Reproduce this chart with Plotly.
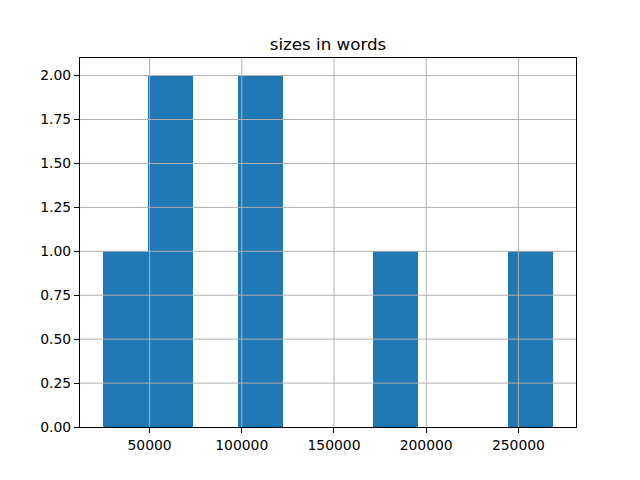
import numpy as np
import plotly.graph_objects as go

# word counts of documents (estimated from the histogram)
sizes_in_words = [24500, 52000, 68000, 103000, 118000, 180000, 269000]
n_bins = 10
x_tick_values = [50000, 100000, 150000, 200000, 250000]
y_tick_values = [0.0, 0.25, 0.5, 0.75, 1.0, 1.25, 1.5, 1.75, 2.0]

counts, edges = np.histogram(sizes_in_words, bins=n_bins)
centers = (edges[:-1] + edges[1:]) / 2
width = edges[1] - edges[0]

span = edges[-1] - edges[0]
xr = [edges[0] - 0.05 * span, edges[-1] + 0.05 * span]
yr = [0, counts.max() * 1.05]

fig = go.Figure(go.Bar(
    x=centers, y=counts, width=[width] * len(counts),
    marker=dict(color="#1f77b4", line=dict(width=0)),
))

grid_color = "#b0b0b0"
# grid lines drawn above the bars, as in matplotlib/pandas hist
for xv in x_tick_values:
    if xr[0] < xv < xr[1]:
        fig.add_shape(type="line", xref="x", yref="paper", x0=xv, x1=xv, y0=0, y1=1,
                      line=dict(color=grid_color, width=1), layer="above")
for yv in y_tick_values:
    if yr[0] < yv < yr[1]:
        fig.add_shape(type="line", xref="paper", yref="y", x0=0, x1=1, y0=yv, y1=yv,
                      line=dict(color=grid_color, width=1), layer="above")

font = "DejaVu Sans"
axis_common = dict(
    showline=True, linecolor="black", linewidth=1, mirror=True,
    ticks="outside", ticklen=5, tickcolor="black", tickwidth=1,
    showgrid=False,
    zeroline=False, layer="above traces",
    tickfont=dict(family=font, size=13.9, color="black"),
)
fig.update_layout(
    width=640, height=480,
    margin=dict(l=72, r=72, t=50, b=61),
    paper_bgcolor="white", plot_bgcolor="white",
    showlegend=False, bargap=0,
    title=dict(text="sizes in words", x=0.5, xref="paper", xanchor="center",
               y=1, yref="paper", yanchor="bottom", pad=dict(b=8),
               font=dict(family=font, size=16.7, color="black")),
)
fig.update_xaxes(range=xr, tickvals=x_tick_values, tickformat="d", **axis_common)
fig.update_yaxes(range=yr, tickvals=y_tick_values, tickformat=".2f", **axis_common)

fig.write_html("out.html")
